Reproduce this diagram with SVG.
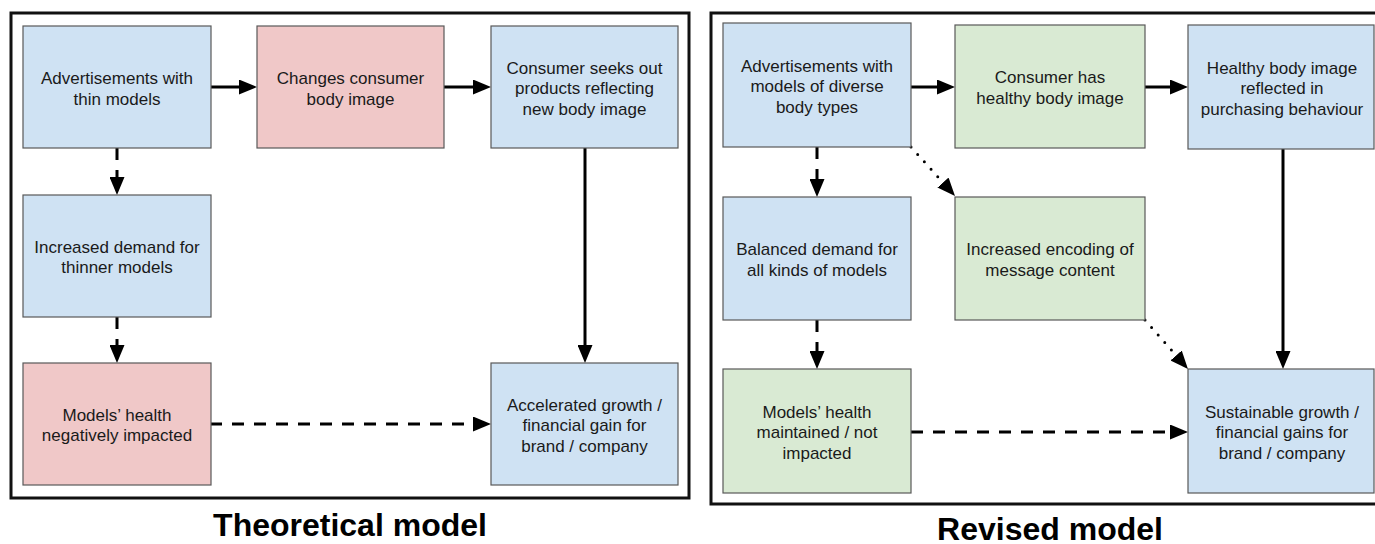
<svg xmlns="http://www.w3.org/2000/svg" width="1375" height="544" viewBox="0 0 1375 544">
<style>
.frame{fill:none;stroke:#111;stroke-width:3}
.box{stroke:#595959;stroke-width:1.2}
.blue{fill:#cfe2f3}
.red{fill:#f0c8c8}
.green{fill:#d9ead3}
.t{font-family:"Liberation Sans",Arial,sans-serif;font-size:17px;fill:#1a1a1a;text-anchor:middle}
.title{font-family:"Liberation Sans",Arial,sans-serif;font-size:32px;font-weight:bold;fill:#000;text-anchor:middle}
.c{fill:none;stroke:#000;stroke-width:3;marker-end:url(#ah)}
.dash{stroke-dasharray:12 10}
.dot{stroke-dasharray:0 10;stroke-linecap:round}
</style>
<defs>
<marker id="ah" markerUnits="userSpaceOnUse" markerWidth="18" markerHeight="15" refX="12" refY="7.5" orient="auto">
<path d="M0,0 L18,7.5 L0,15 z" fill="#000"/>
</marker>
</defs>
<rect class="frame" x="11" y="13" width="678" height="485"/>
<rect class="frame" x="711" y="13" width="700" height="491"/>
<text class="title" x="350" y="536">Theoretical model</text>
<text class="title" x="1050" y="540">Revised model</text>

<g id="connectors">
<line class="c" x1="211" y1="87" x2="251" y2="87"/>
<line class="c" x1="444" y1="87" x2="485" y2="87"/>
<line class="c dash" x1="117" y1="148" x2="117" y2="189"/>
<line class="c dash" x1="117" y1="317" x2="117" y2="357"/>
<line class="c" x1="585" y1="148" x2="585" y2="357"/>
<line class="c dash" x1="210" y1="424" x2="485" y2="424"/>
<line class="c" x1="911" y1="87" x2="949" y2="87"/>
<line class="c" x1="1145" y1="87" x2="1182" y2="87"/>
<line class="c dash" x1="817" y1="147" x2="817" y2="191"/>
<line class="c dash" x1="817" y1="320" x2="817" y2="363"/>
<line class="c" x1="1283" y1="149" x2="1283" y2="363"/>
<line class="c dash" x1="911" y1="432" x2="1182" y2="432"/>
<line class="c dot" x1="911" y1="147" x2="951" y2="191.5"/>
<line class="c dot" x1="1145" y1="320" x2="1184" y2="364.5"/>
</g>

<g id="n-ads-thin">
<rect class="box blue" x="23" y="26" width="188" height="122"/>
<text class="t" x="117" y="84">Advertisements with</text>
<text class="t" x="117" y="104.5">thin models</text>
</g>
<g id="n-changes">
<rect class="box red" x="257" y="26" width="187" height="122"/>
<text class="t" x="350.5" y="84">Changes consumer</text>
<text class="t" x="350.5" y="104.5">body image</text>
</g>
<g id="n-seeks">
<rect class="box blue" x="491" y="26" width="187" height="122"/>
<text class="t" x="584.5" y="73.5">Consumer seeks out</text>
<text class="t" x="584.5" y="94">products reflecting</text>
<text class="t" x="584.5" y="114.5">new body image</text>
</g>
<g id="n-demand-thin">
<rect class="box blue" x="23" y="195" width="188" height="122"/>
<text class="t" x="117" y="252.75">Increased demand for</text>
<text class="t" x="117" y="273.25">thinner models</text>
</g>
<g id="n-health-neg">
<rect class="box red" x="23" y="363" width="188" height="122"/>
<text class="t" x="117" y="420.75">Models’ health</text>
<text class="t" x="117" y="441.25">negatively impacted</text>
</g>
<g id="n-accelerated">
<rect class="box blue" x="491" y="363" width="187" height="122"/>
<text class="t" x="584.5" y="410.5">Accelerated growth /</text>
<text class="t" x="584.5" y="431">financial gain for</text>
<text class="t" x="584.5" y="451.5">brand / company</text>
</g>

<g id="n-ads-diverse">
<rect class="box blue" x="723" y="23" width="188" height="124"/>
<text class="t" x="817" y="71.5">Advertisements with</text>
<text class="t" x="817" y="92">models of diverse</text>
<text class="t" x="817" y="112.5">body types</text>
</g>
<g id="n-healthy-image">
<rect class="box green" x="955" y="25" width="190" height="123"/>
<text class="t" x="1050" y="83">Consumer has</text>
<text class="t" x="1050" y="103.5">healthy body image</text>
</g>
<g id="n-purchasing">
<rect class="box blue" x="1188" y="25" width="186" height="124"/>
<text class="t" x="1282" y="73.5">Healthy body image</text>
<text class="t" x="1282" y="94">reflected in</text>
<text class="t" x="1282" y="114.5">purchasing behaviour</text>
</g>
<g id="n-balanced">
<rect class="box blue" x="723" y="197" width="188" height="123"/>
<text class="t" x="817" y="255">Balanced demand for</text>
<text class="t" x="817" y="275.5">all kinds of models</text>
</g>
<g id="n-encoding">
<rect class="box green" x="955" y="197" width="190" height="123"/>
<text class="t" x="1050" y="255">Increased encoding of</text>
<text class="t" x="1050" y="275.5">message content</text>
</g>
<g id="n-health-maintained">
<rect class="box green" x="723" y="369" width="188" height="124"/>
<text class="t" x="817" y="417.5">Models’ health</text>
<text class="t" x="817" y="438">maintained / not</text>
<text class="t" x="817" y="458.5">impacted</text>
</g>
<g id="n-sustainable">
<rect class="box blue" x="1188" y="369" width="186" height="124"/>
<text class="t" x="1282" y="417.5">Sustainable growth /</text>
<text class="t" x="1282" y="438">financial gains for</text>
<text class="t" x="1282" y="458.5">brand / company</text>
</g>
</svg>
